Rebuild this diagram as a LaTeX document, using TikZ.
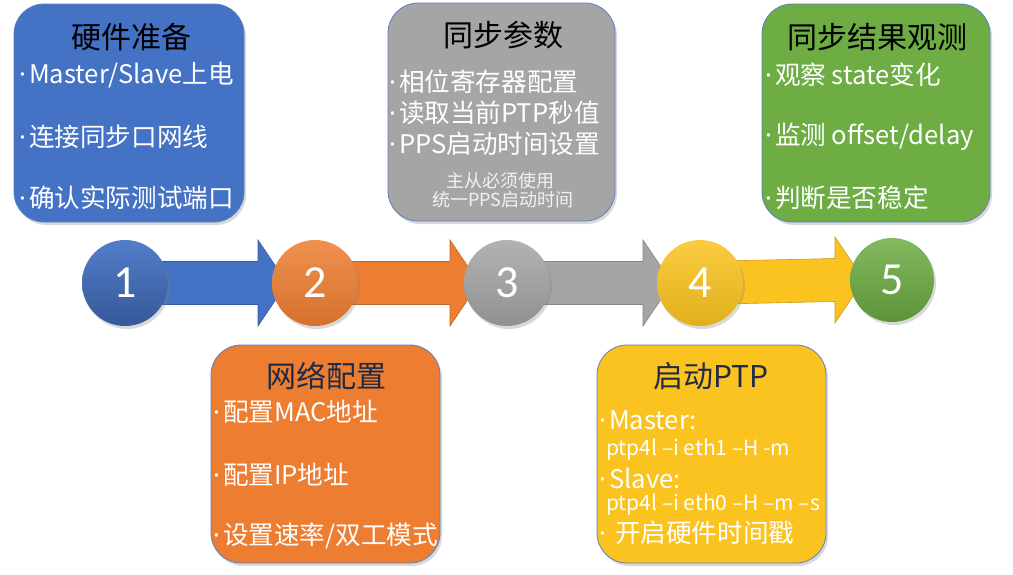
\documentclass[tikz,border=0pt]{standalone}
\usepackage{fontspec}
\setmainfont{Noto Sans CJK SC}
\newfontfamily\numfont{Carlito}
\newfontfamily\latinfont{Noto Sans}
\newcommand{\dt}{{\latinfont ·}\hspace{3pt}}
\usetikzlibrary{shadows,calc,backgrounds}
\definecolor{cblue}{HTML}{4472C4}
\definecolor{corange}{HTML}{ED7D31}
\definecolor{cgray}{HTML}{A5A5A5}
\definecolor{cyellow}{HTML}{FAC31F}
\definecolor{cgreen}{HTML}{6DAD43}
\definecolor{boxline}{HTML}{5A7FC4}
\definecolor{navy}{HTML}{1F2A44}
\begin{document}
\begin{tikzpicture}[x=1pt,y=-1pt,
  box/.style={rounded corners=30pt, draw=boxline, line width=0.8pt, minimum width=229pt, minimum height=218pt, inner sep=0pt,
    drop shadow={opacity=0.3, shadow xshift=2pt, shadow yshift=-3pt}},
  title/.style={font=\fontsize{30}{32}\selectfont, inner sep=0pt},
  item/.style={font=\fontsize{25.6}{28}\selectfont, text=white, anchor=west, inner sep=0pt},
  cmd/.style={font=\fontsize{21}{23}\selectfont, text=white, anchor=west, inner sep=0pt},
  note/.style={font=\fontsize{18}{20}\selectfont, text=white!95!black, inner sep=0pt},
  circ/.style={circle, minimum size=86pt, inner sep=0pt, text=white, font=\numfont\fontsize{46}{46}\selectfont,
    drop shadow={opacity=0.3, shadow xshift=2pt, shadow yshift=-3pt}},
  arr/.style={line width=0.6pt}
]
\useasboundingbox (0,0) rectangle (1013,574);

% boxes
\node[box, fill=cblue, minimum width=230pt] (b1) at (129,113) {};
\node[box, fill=cgray, minimum width=227pt] (b3) at (501.5,112) {};
\node[box, fill=cgreen, minimum width=228pt] (b5) at (876,113) {};
\node[box, fill=corange] (b2) at (325.5,454) {};
\node[box, fill=cyellow] (b4) at (711.5,454) {};

% box 1
\node[title] (t1) at (131,37) {硬件准备};
\node[item] (i11) at (19,75) {\dt Master/Slave上电};
\node[item] (i12) at (19,137) {\dt 连接同步口网线};
\node[item] (i13) at (19,198) {\dt 确认实际测试端口};

% box 3
\node[title] (t3) at (503,35) {同步参数};
\node[item] (i31) at (389,82) {\dt 相位寄存器配置};
\node[item] (i32) at (389,113) {\dt 读取当前PTP秒值};
\node[item] (i33) at (389,144) {\dt PPS启动时间设置};
\node[note] (n31) at (500,181) {主从必须使用};
\node[note] (n32) at (503,200) {统一PPS启动时间};

% box 5
\node[title] (t5) at (877,37) {同步结果观测};
\node[item] (i51) at (765,75) {\dt 观察 state变化};
\node[item] (i52) at (765,137) {\dt 监测 offset/delay};
\node[item] (i53) at (765,198) {\dt 判断是否稳定};

% box 2
\node[title, text=navy] (t2) at (326,376) {网络配置};
\node[item] (i21) at (213,412) {\dt 配置MAC地址};
\node[item] (i22) at (213,475) {\dt 配置IP地址};
\node[item] (i23) at (213,536) {\dt 设置速率/双工模式};

% box 4
\node[title, text=navy] (t4) at (711,376) {启动PTP};
\node[item] (i41) at (599,420) {\dt Master:};
\node[cmd] (i42) at (606,450) {ptp4l –i eth1 –H -m};
\node[item] (i43) at (599,478) {\dt Slave:};
\node[cmd] (i44) at (606,505) {ptp4l –i eth0 –H –m –s};
\node[item] (i45) at (599,533) {\dt\hspace{6pt}开启硬件时间戳};

% circles
\node[circ, top color=cblue!92!white, bottom color=cblue!78!black] (c1) at (125,283) {1};
\node[circ, top color=corange!85!white, bottom color=corange!90!black] (c2) at (315,283) {2};
\node[circ, top color=cgray!85!white, bottom color=cgray!88!black] (c3) at (507,283) {3};
\node[circ, top color=cyellow!85!white, bottom color=cyellow!90!black] (c4) at (700,283) {4};
\node[circ, minimum size=84pt, top color=cgreen!85!white, bottom color=cgreen!85!black] (c5) at (892,280) {5};

% arrows
\begin{scope}[on background layer]
\foreach \a/\b/\col in {c1/c2/cblue, c2/c3/corange, c3/c4/cgray, c4/c5/cyellow}{
  \filldraw[arr, fill=\col, draw=\col!80!black]
    ($(\a.center)+(0,-21.5)$) -- ($(\b.center)+(-57,-21.5)$) -- ($(\b.center)+(-57,-43)$)
    -- ($(\b.center)+(-28,0)$) -- ($(\b.center)+(-57,43)$) -- ($(\b.center)+(-57,21.5)$)
    -- ($(\a.center)+(0,21.5)$) -- cycle;
}
\end{scope}
\end{tikzpicture}
\end{document}
